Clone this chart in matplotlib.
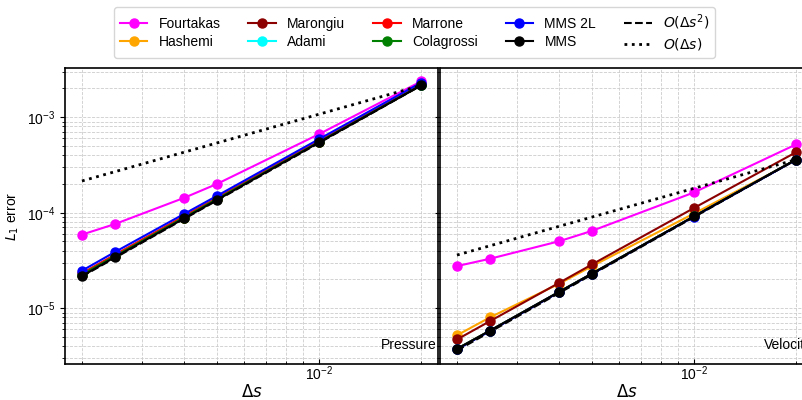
import numpy as np
import matplotlib
matplotlib.use("Agg")
import matplotlib.pyplot as plt

plt.rcParams["font.family"] = ["Liberation Sans", "DejaVu Sans"]
plt.rcParams["font.size"] = 10

# grid spacing
ds = [0.002, 0.0025, 0.004, 0.005, 0.01, 0.02]

# pressure L1 error
pressure = {
    "Fourtakas":  [5.9e-5, 7.6e-5, 1.43e-4, 2.0e-4, 6.65e-4, 2.37e-3],
    "Hashemi":    [2.25e-5, 3.5e-5, 8.9e-5, 1.39e-4, 5.5e-4, 2.17e-3],
    "Marongiu":   [2.25e-5, 3.5e-5, 8.9e-5, 1.39e-4, 5.5e-4, 2.17e-3],
    "Adami":      [2.3e-5, 3.6e-5, 9.1e-5, 1.42e-4, 5.6e-4, 2.2e-3],
    "Marrone":    [2.32e-5, 3.62e-5, 9.2e-5, 1.43e-4, 5.65e-4, 2.22e-3],
    "Colagrossi": [2.25e-5, 3.5e-5, 8.9e-5, 1.39e-4, 5.5e-4, 2.17e-3],
    "MMS 2L":     [2.47e-5, 3.87e-5, 9.7e-5, 1.5e-4, 5.9e-4, 2.3e-3],
    "MMS":        [2.17e-5, 3.42e-5, 8.7e-5, 1.36e-4, 5.45e-4, 2.15e-3],
}

# velocity L1 error
velocity = {
    "Fourtakas":  [2.76e-5, 3.29e-5, 5.02e-5, 6.45e-5, 1.63e-4, 5.19e-4],
    "Hashemi":    [5.2e-6, 8.0e-6, 1.8e-5, 2.75e-5, 9.8e-5, 3.55e-4],
    "Marongiu":   [4.7e-6, 7.3e-6, 1.84e-5, 2.87e-5, 1.12e-4, 4.3e-4],
    "Adami":      [3.75e-6, 5.8e-6, 1.48e-5, 2.3e-5, 9.15e-5, 3.6e-4],
    "Marrone":    [3.75e-6, 5.8e-6, 1.48e-5, 2.3e-5, 9.15e-5, 3.6e-4],
    "Colagrossi": [3.75e-6, 5.8e-6, 1.48e-5, 2.3e-5, 9.15e-5, 3.6e-4],
    "MMS 2L":     [3.7e-6, 5.75e-6, 1.47e-5, 2.28e-5, 9.1e-5, 3.58e-4],
    "MMS":        [3.74e-6, 5.8e-6, 1.48e-5, 2.3e-5, 9.15e-5, 3.6e-4],
}

colors = {
    "Fourtakas": "magenta", "Hashemi": "orange", "Marongiu": "darkred",
    "Adami": "cyan", "Marrone": "red", "Colagrossi": "green",
    "MMS 2L": "blue", "MMS": "black",
}

fig = plt.figure(figsize=(8.02, 4.0), dpi=100)
ax1 = fig.add_axes([65 / 802, 36 / 400, 373 / 802, 296 / 400])
ax2 = fig.add_axes([440 / 802, 36 / 400, 373 / 802, 296 / 400], sharey=ax1)

x = np.array(ds)
for ax, data, tag in [(ax1, pressure, "Pressure"), (ax2, velocity, "Velocity")]:
    for name, vals in data.items():
        ax.plot(ds, vals, "-o", color=colors[name], lw=1.5, ms=6.5, label=name)
    ref = data["MMS"][-1]
    ax.plot(ds, ref * (x / x[-1]) ** 2, "k--", lw=1.5, label=r"$O(\Delta s^2)$")
    ax.plot(ds, ref * (x / x[-1]), "k:", lw=2, label=r"$O(\Delta s)$")
    ax.set_xscale("log")
    ax.set_yscale("log")
    ax.grid(True, which="both", ls="--", color="#cccccc", lw=0.6)
    ax.tick_params(axis="x", which="both", direction="in", pad=0.5)
    ax.set_xlabel(r"$\Delta s$", fontsize=12, labelpad=0)
    ax.text(0.997, 0.04, tag, transform=ax.transAxes, ha="right", va="bottom")
    for sp in ax.spines.values():
        sp.set_linewidth(1.2)

ax1.set_ylabel(r"$L_1$ error")
plt.setp(ax2.get_yticklabels(), visible=False)

handles, labels = ax1.get_legend_handles_labels()
fig.legend(handles, labels, loc="upper center", ncol=5,
           bbox_to_anchor=(414.5 / 802, 1.0), labelspacing=0.3, borderpad=0.4)

fig.savefig("out.png", dpi=100)
